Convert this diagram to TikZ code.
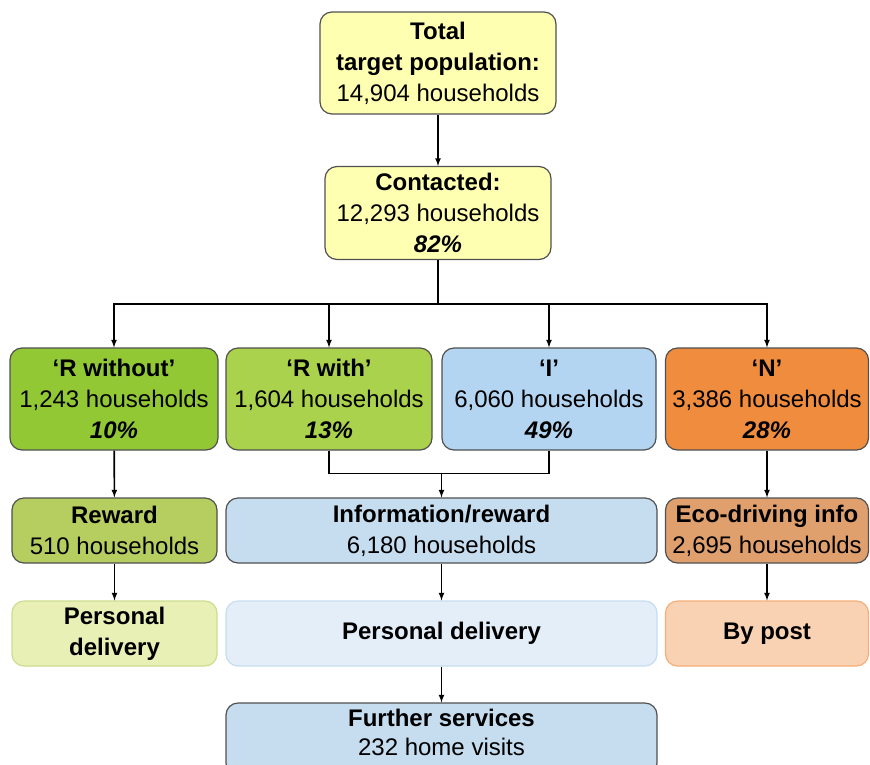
\documentclass[tikz,border=0pt]{standalone}
\usepackage{fontspec}
\setmainfont{Liberation Sans}
\usetikzlibrary{positioning}
\definecolor{boxline}{RGB}{80,80,80}
\definecolor{paleyellow}{RGB}{255,255,178}
\definecolor{grassgreen}{RGB}{146,200,52}
\definecolor{lightgreen}{RGB}{170,210,76}
\definecolor{skyblue}{RGB}{180,213,242}
\definecolor{deeporange}{RGB}{240,140,62}
\definecolor{olivegreen}{RGB}{182,206,96}
\definecolor{softblue}{RGB}{198,221,240}
\definecolor{tanorange}{RGB}{223,160,110}
\definecolor{palegreen}{RGB}{232,240,182}
\definecolor{paleblue}{RGB}{228,238,248}
\definecolor{palepeach}{RGB}{248,210,178}

\begin{document}
\begin{tikzpicture}[x=1pt,y=-1pt,
  box/.style={draw=boxline,line width=1.2pt,rounded corners=12pt,align=center,
    inner sep=0pt,font=\fontsize{24}{31}\selectfont},
  link/.style={line width=1.6pt},
  arr/.style={link,-latex}]
\useasboundingbox (0,0) rectangle (870,764);

% top of the tree
\node[box,fill=paleyellow,minimum width=236pt,minimum height=102pt] (total) at (438,63)
  {\textbf{Total}\\\textbf{target population:}\\14,904 households};
\node[box,fill=paleyellow,minimum width=226pt,minimum height=93pt] (contacted) at (438,213)
  {\textbf{Contacted:}\\12,293 households\\\textbf{\textit{82\%}}};

% groups
\node[box,fill=grassgreen,minimum width=208pt,minimum height=102pt] (rwo) at (114,399)
  {\textbf{‘R without’}\\1,243 households\\\textbf{\textit{10\%}}};
\node[box,fill=lightgreen,minimum width=206pt,minimum height=102pt] (rwith) at (329,399)
  {\textbf{‘R with’}\\1,604 households\\\textbf{\textit{13\%}}};
\node[box,fill=skyblue,minimum width=214pt,minimum height=102pt] (ibox) at (549,399)
  {\textbf{‘I’}\\6,060 households\\\textbf{\textit{49\%}}};
\node[box,fill=deeporange,minimum width=203pt,minimum height=102pt] (nbox) at (767,399)
  {\textbf{‘N’}\\3,386 households\\\textbf{\textit{28\%}}};

% treatments
\node[box,fill=olivegreen,minimum width=205pt,minimum height=65pt] (reward) at (114.5,530.5)
  {\textbf{Reward}\\510 households};
\node[box,fill=softblue,minimum width=431pt,minimum height=65pt] (info) at (441.5,530.5)
  {\textbf{Information/reward}\\6,180 households};
\node[box,fill=tanorange,minimum width=203pt,minimum height=65pt] (eco) at (767,530.5)
  {\textbf{Eco-driving info}\\2,695 households};

% delivery
\node[box,draw=olivegreen!70,fill=palegreen,minimum width=205pt,minimum height=65pt] (pdl) at (114.5,633.5)
  {\textbf{Personal}\\\textbf{delivery}};
\node[box,draw=softblue,fill=paleblue,minimum width=431pt,minimum height=65pt] (pdc) at (441.5,633.5)
  {\textbf{Personal delivery}};
\node[box,draw=deeporange!70,fill=palepeach,minimum width=203pt,minimum height=65pt] (post) at (767,633.5)
  {\textbf{By post}};
\node[box,fill=softblue,minimum width=431pt,minimum height=72pt,text depth=14pt,
  font=\fontsize{24}{29}\selectfont] (further) at (441.5,739)
  {\textbf{Further services}\\232 home visits};

% connectors
\draw[arr] (total) -- (contacted);
\draw[link] (contacted.south) -- ++(0,44) coordinate (split);
\draw[arr] (split) -| (rwo);
\draw[arr] (split) -| (rwith);
\draw[arr] (split) -| (ibox);
\draw[arr] (split) -| (nbox);
\draw[link] (rwith.south) -- ++(0,23) coordinate (join) -| (ibox.south);
\draw[arr] (join -| info.north) -- (info);
\draw[arr] (rwo) -- (reward);
\draw[arr] (nbox) -- (eco);
\draw[arr] (reward) -- (pdl);
\draw[arr] (info) -- (pdc);
\draw[arr] (eco) -- (post);
\draw[arr] (pdc) -- (further);
\end{tikzpicture}
\end{document}
